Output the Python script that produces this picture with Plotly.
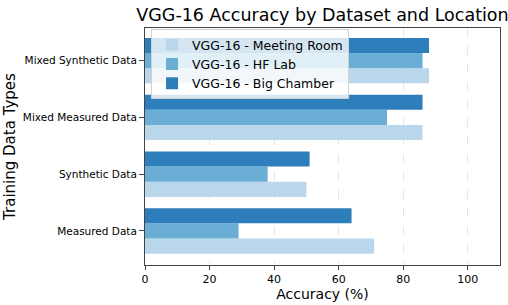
import plotly.graph_objects as go

categories = ["Measured Data", "Synthetic Data", "Mixed Measured Data", "Mixed Synthetic Data"]
series_names = ["VGG-16 - Meeting Room", "VGG-16 - HF Lab", "VGG-16 - Big Chamber"]
meeting_room = [71, 50, 86, 88]
hf_lab = [29, 38, 75, 86]
big_chamber = [64, 51, 86, 88]
x_ticks = [0, 20, 40, 60, 80, 100]

colors = ["#bad6eb", "#6aaed6", "#2e7ebc"]
font_family = "DejaVu Sans, Verdana, sans-serif"

fig = go.Figure()
for name, vals, c in zip(series_names, [meeting_room, hf_lab, big_chamber], colors):
    fig.add_trace(go.Bar(
        y=categories, x=vals, name=name, orientation="h",
        marker=dict(color=c, line=dict(width=0)),
    ))

fig.update_layout(
    width=508, height=305,
    margin=dict(l=145, r=8, t=28, b=40, autoexpand=False),
    barmode="group", bargap=0.2, bargroupgap=0,
    plot_bgcolor="white", paper_bgcolor="white",
    font=dict(family=font_family, color="black", size=11),
    title=dict(text="VGG-16 Accuracy by Dataset and Location", x=0.5, xref="paper",
               xanchor="center", y=0.93, yref="container", yanchor="bottom",
               font=dict(size=17.5, family=font_family)),
    legend=dict(x=0.017, y=0.995, xanchor="left", yanchor="top",
                bgcolor="rgba(255,255,255,0.8)", bordercolor="#d0d0d0", borderwidth=1,
                font=dict(size=12.5, family=font_family), traceorder="normal"),
    xaxis=dict(range=[0, 110], tickvals=x_ticks, ticktext=[str(t) for t in x_ticks],
               showgrid=True, gridcolor="#e6e6e6", griddash="dash", gridwidth=1,
               showline=True, linecolor="#444444", linewidth=1, mirror=True,
               ticks="outside", ticklen=4, tickcolor="#444444", automargin=False,
               title=dict(text="Accuracy (%)", font=dict(size=14), standoff=2),
               zeroline=False, tickfont=dict(size=11)),
    yaxis=dict(type="category", categoryorder="array", categoryarray=categories,
               range=[-0.6, 3.575], showgrid=False, automargin=False,
               showline=True, linecolor="#444444", linewidth=1, mirror=True,
               ticks="outside", ticklen=5, tickcolor="#444444",
               title=dict(text="Training Data Types", font=dict(size=15), standoff=3),
               tickfont=dict(size=10.5)),
)

fig.write_html("out.html", config={"displayModeBar": False},
               post_script="document.body.style.margin='0';document.body.style.overflow='hidden';")
